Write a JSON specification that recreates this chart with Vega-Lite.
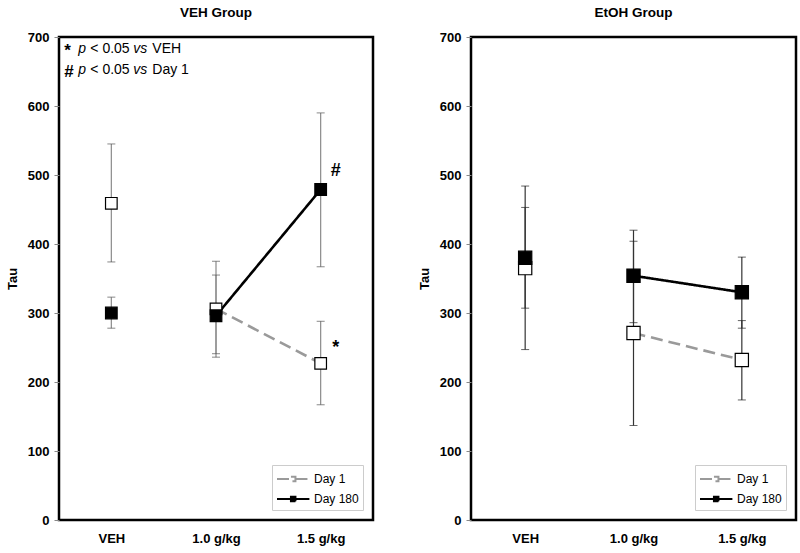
{
  "$schema": "https://vega.github.io/schema/vega-lite/v6.json",
  "padding": {"left": 5, "top": 4, "right": 4, "bottom": 4},
  "background": "white",
  "datasets": {
    "pts": [
      {"panel": "VEH", "dose": "VEH", "series": "Day 1", "mean": 459, "lo": 374, "hi": 545},
      {"panel": "VEH", "dose": "VEH", "series": "Day 180", "mean": 300, "lo": 278, "hi": 323},
      {"panel": "VEH", "dose": "1.0 g/kg", "series": "Day 1", "mean": 306, "lo": 236, "hi": 375},
      {"panel": "VEH", "dose": "1.0 g/kg", "series": "Day 180", "mean": 296, "lo": 241, "hi": 355},
      {"panel": "VEH", "dose": "1.5 g/kg", "series": "Day 1", "mean": 227, "lo": 167, "hi": 288},
      {"panel": "VEH", "dose": "1.5 g/kg", "series": "Day 180", "mean": 479, "lo": 367, "hi": 590},
      {"panel": "EtOH", "dose": "VEH", "series": "Day 1", "mean": 365, "lo": 247, "hi": 484},
      {"panel": "EtOH", "dose": "VEH", "series": "Day 180", "mean": 380, "lo": 307, "hi": 453},
      {"panel": "EtOH", "dose": "1.0 g/kg", "series": "Day 1", "mean": 271, "lo": 137, "hi": 404},
      {"panel": "EtOH", "dose": "1.0 g/kg", "series": "Day 180", "mean": 354, "lo": 286, "hi": 420},
      {"panel": "EtOH", "dose": "1.5 g/kg", "series": "Day 1", "mean": 232, "lo": 174, "hi": 289},
      {"panel": "EtOH", "dose": "1.5 g/kg", "series": "Day 180", "mean": 330, "lo": 278, "hi": 381}
    ],
    "note": [
      {"sym": "*", "p": "p", "mid": "< 0.05", "vs": "vs", "tail": "VEH", "y": 683},
      {"sym": "#", "p": "p", "mid": "< 0.05", "vs": "vs", "tail": "Day 1", "y": 652}
    ],
    "sig": [
      {"dose": "1.5 g/kg", "mark": "*", "y": 250},
      {"dose": "1.5 g/kg", "mark": "#", "y": 506}
    ]
  },
  "resolve": {
    "scale": {"color": "independent", "fill": "independent", "strokeDash": "independent"},
    "legend": {"color": "independent", "fill": "independent", "strokeDash": "independent"}
  },
  "hconcat": [
    {
      "width": 314,
      "height": 483,
      "title": "VEH Group",
      "layer": [
        {
          "data": {"name": "pts"},
          "transform": [{"filter": "datum.panel === 'VEH'"}],
          "mark": {"type": "rule", "color": "#8a8a8a", "strokeWidth": 1.2},
          "encoding": {
            "x": {"field": "dose", "type": "nominal", "scale": {"type": "point", "padding": 0.5, "domain": ["VEH", "1.0 g/kg", "1.5 g/kg"]}, "axis": {"title": null, "labelAngle": 0}},
            "y": {"field": "lo", "type": "quantitative", "scale": {"domain": [0, 700], "nice": false}, "axis": {"title": "Tau", "values": [0, 100, 200, 300, 400, 500, 600, 700]}},
            "y2": {"field": "hi"}
          }
        },
        {
          "data": {"name": "pts"},
          "transform": [{"filter": "datum.panel === 'VEH'"}],
          "mark": {"type": "tick", "color": "#555", "thickness": 1, "size": 8, "orient": "horizontal"},
          "encoding": {
            "x": {"field": "dose", "type": "nominal"},
            "y": {"field": "lo", "type": "quantitative"}
          }
        },
        {
          "data": {"name": "pts"},
          "transform": [{"filter": "datum.panel === 'VEH'"}],
          "mark": {"type": "tick", "color": "#555", "thickness": 1, "size": 8, "orient": "horizontal"},
          "encoding": {
            "x": {"field": "dose", "type": "nominal"},
            "y": {"field": "hi", "type": "quantitative"}
          }
        },
        {
          "data": {"name": "pts"},
          "transform": [{"filter": "datum.panel === 'VEH' && datum.dose !== 'VEH'"}],
          "mark": {"type": "line", "strokeWidth": 2.6},
          "encoding": {
            "x": {"field": "dose", "type": "nominal"},
            "y": {"field": "mean", "type": "quantitative"},
            "color": {"field": "series", "type": "nominal", "scale": {"domain": ["Day 1", "Day 180"], "range": ["#9a9a9a", "#000000"]}, "legend": {"title": null, "orient": "bottom-right"}},
            "strokeDash": {"field": "series", "type": "nominal", "scale": {"domain": ["Day 1", "Day 180"], "range": [[12, 6], [1, 0]]}, "legend": {"title": null, "orient": "bottom-right"}}
          }
        },
        {
          "data": {"name": "pts"},
          "transform": [{"filter": "datum.panel === 'VEH'"}],
          "mark": {"type": "point", "shape": "square", "size": 135, "filled": true, "stroke": "black", "strokeWidth": 1.2, "opacity": 1},
          "encoding": {
            "x": {"field": "dose", "type": "nominal"},
            "y": {"field": "mean", "type": "quantitative"},
            "fill": {"field": "series", "type": "nominal", "scale": {"domain": ["Day 1", "Day 180"], "range": ["#ffffff", "#000000"]}, "legend": {"title": null, "orient": "bottom-right"}}
          }
        },
        {
          "data": {"name": "sig"},
          "mark": {"type": "text", "font": "Liberation Sans", "fontWeight": "bold", "fontSize": 18, "dx": 15, "align": "center", "baseline": "middle"},
          "encoding": {
            "x": {"field": "dose", "type": "nominal"},
            "y": {"field": "y", "type": "quantitative"},
            "text": {"field": "mark"}
          }
        },
        {
          "data": {"name": "note"},
          "mark": {"type": "text", "font": "Liberation Sans", "fontWeight": "bold", "fontSize": 17, "dx": -47, "dy": 2, "align": "left", "baseline": "middle"},
          "encoding": {
            "x": {"datum": "VEH", "type": "nominal"},
            "y": {"field": "y", "type": "quantitative"},
            "text": {"field": "sym"}
          }
        },
        {
          "data": {"name": "note"},
          "mark": {"type": "text", "font": "Liberation Sans", "fontStyle": "italic", "fontSize": 14, "dx": -33, "align": "left", "baseline": "middle"},
          "encoding": {
            "x": {"datum": "VEH", "type": "nominal"},
            "y": {"field": "y", "type": "quantitative"},
            "text": {"field": "p"}
          }
        },
        {
          "data": {"name": "note"},
          "mark": {"type": "text", "font": "Liberation Sans", "fontSize": 14, "dx": -21, "align": "left", "baseline": "middle"},
          "encoding": {
            "x": {"datum": "VEH", "type": "nominal"},
            "y": {"field": "y", "type": "quantitative"},
            "text": {"field": "mid"}
          }
        },
        {
          "data": {"name": "note"},
          "mark": {"type": "text", "font": "Liberation Sans", "fontStyle": "italic", "fontSize": 14, "dx": 22, "align": "left", "baseline": "middle"},
          "encoding": {
            "x": {"datum": "VEH", "type": "nominal"},
            "y": {"field": "y", "type": "quantitative"},
            "text": {"field": "vs"}
          }
        },
        {
          "data": {"name": "note"},
          "mark": {"type": "text", "font": "Liberation Sans", "fontSize": 14, "dx": 41, "align": "left", "baseline": "middle"},
          "encoding": {
            "x": {"datum": "VEH", "type": "nominal"},
            "y": {"field": "y", "type": "quantitative"},
            "text": {"field": "tail"}
          }
        }
      ]
    },
    {
      "width": 325,
      "height": 483,
      "title": "EtOH Group",
      "layer": [
        {
          "data": {"name": "pts"},
          "transform": [{"filter": "datum.panel === 'EtOH'"}],
          "mark": {"type": "rule", "color": "#333333", "strokeWidth": 1.2},
          "encoding": {
            "x": {"field": "dose", "type": "nominal", "scale": {"type": "point", "padding": 0.5, "domain": ["VEH", "1.0 g/kg", "1.5 g/kg"]}, "axis": {"title": null, "labelAngle": 0}},
            "y": {"field": "lo", "type": "quantitative", "scale": {"domain": [0, 700], "nice": false}, "axis": {"title": "Tau", "values": [0, 100, 200, 300, 400, 500, 600, 700]}},
            "y2": {"field": "hi"}
          }
        },
        {
          "data": {"name": "pts"},
          "transform": [{"filter": "datum.panel === 'EtOH'"}],
          "mark": {"type": "tick", "color": "#222", "thickness": 1, "size": 8, "orient": "horizontal"},
          "encoding": {
            "x": {"field": "dose", "type": "nominal"},
            "y": {"field": "lo", "type": "quantitative"}
          }
        },
        {
          "data": {"name": "pts"},
          "transform": [{"filter": "datum.panel === 'EtOH'"}],
          "mark": {"type": "tick", "color": "#222", "thickness": 1, "size": 8, "orient": "horizontal"},
          "encoding": {
            "x": {"field": "dose", "type": "nominal"},
            "y": {"field": "hi", "type": "quantitative"}
          }
        },
        {
          "data": {"name": "pts"},
          "transform": [{"filter": "datum.panel === 'EtOH' && datum.dose !== 'VEH'"}],
          "mark": {"type": "line", "strokeWidth": 2.6},
          "encoding": {
            "x": {"field": "dose", "type": "nominal"},
            "y": {"field": "mean", "type": "quantitative"},
            "color": {"field": "series", "type": "nominal", "scale": {"domain": ["Day 1", "Day 180"], "range": ["#9a9a9a", "#000000"]}, "legend": {"title": null, "orient": "bottom-right"}},
            "strokeDash": {"field": "series", "type": "nominal", "scale": {"domain": ["Day 1", "Day 180"], "range": [[12, 6], [1, 0]]}, "legend": {"title": null, "orient": "bottom-right"}}
          }
        },
        {
          "data": {"name": "pts"},
          "transform": [{"filter": "datum.panel === 'EtOH'"}],
          "mark": {"type": "point", "shape": "square", "size": 175, "filled": true, "stroke": "black", "strokeWidth": 1.2, "opacity": 1},
          "encoding": {
            "x": {"field": "dose", "type": "nominal"},
            "y": {"field": "mean", "type": "quantitative"},
            "fill": {"field": "series", "type": "nominal", "scale": {"domain": ["Day 1", "Day 180"], "range": ["#ffffff", "#000000"]}, "legend": {"title": null, "orient": "bottom-right"}}
          }
        }
      ]
    }
  ],
  "spacing": 42,
  "config": {
    "font": "Liberation Sans",
    "view": {"stroke": "black", "strokeWidth": 2.5},
    "title": {"font": "Liberation Sans", "fontSize": 13.5, "fontWeight": "bold", "color": "black", "offset": 12, "frame": "group"},
    "axis": {"labelFont": "Liberation Sans", "labelFontWeight": "bold", "labelFontSize": 13, "labelColor": "black", "titleFont": "Liberation Sans", "titleFontWeight": "bold", "titleFontSize": 13, "titleColor": "black", "domain": false, "grid": false},
    "axisX": {"ticks": false, "labelPadding": 12},
    "axisY": {"tickSize": 5, "tickColor": "#888", "labelPadding": 5, "titlePadding": 8},
    "legend": {
      "orient": "bottom-right",
      "offset": 10,
      "strokeColor": "#cccccc",
      "fillColor": "white",
      "padding": 4,
      "rowPadding": 3,
      "labelFont": "Liberation Sans",
      "labelFontSize": 12,
      "labelColor": "black",
      "labelOffset": 18,
      "symbolSize": 324,
      "symbolStrokeWidth": 2,
      "symbolOpacity": 1,
      "symbolType": "M-1,0L0.55,0M1.05,0L2.6,0M0.55,-0.25L1.05,-0.25L1.05,0.25L0.55,0.25Z"
    }
  }
}
